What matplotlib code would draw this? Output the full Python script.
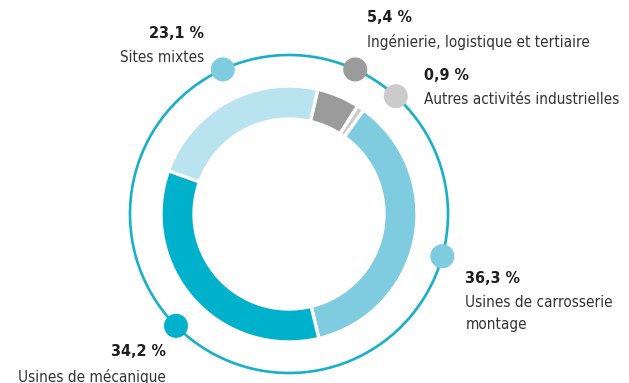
import matplotlib.pyplot as plt
from matplotlib import font_manager
from matplotlib.patches import Circle
import numpy as np

# shares, clockwise from the top
labels = ['Ingénierie, logistique et tertiaire', 'Autres activités industrielles',
          'Usines de carrosserie\nmontage', 'Usines de mécanique', 'Sites mixtes']
values = [5.4, 0.9, 36.3, 34.2, 23.1]
value_text = ['5,4 %', '0,9 %', '36,3 %', '34,2 %', '23,1 %']

wedge_colors = ['#9b9b9b', '#cbcbcb', '#7fcbe0', '#00b1cc', '#b9e3ef']
dot_colors = ['#9b9b9b', '#cbcbcb', '#7fcbe0', '#00b1cc', '#7fcbe0']
ring_color = '#17b0cb'

# prefer a narrow face if one is around, otherwise plain Liberation Sans a bit smaller
font_kw = dict(family=['Liberation Sans', 'DejaVu Sans'])
fsize = 10.5
for f in font_manager.fontManager.ttflist:
    if f.name == 'Liberation Sans Narrow':
        font_kw = dict(family=['Liberation Sans Narrow', 'DejaVu Sans'])
        fsize = 12.5
        break
else:
    for f in font_manager.fontManager.ttflist:
        if f.name == 'DejaVu Sans' and 'condensed' in str(f.stretch):
            font_kw = dict(family=['DejaVu Sans'], fontstretch='condensed')
            fsize = 11
            break

W, H = 629, 383
fig = plt.figure(figsize=(W / 100, H / 100), dpi=100)
ax = fig.add_axes([0, 0, 1, 1])

cx, cy = 289, H - 214
r_out, r_in = 128, 95
ring_r = 159

ax.pie(values, colors=wedge_colors, startangle=77, counterclock=False,
       radius=r_out, center=(cx, cy), frame=True,
       wedgeprops=dict(width=r_out - r_in, edgecolor='white', linewidth=2.4))

ax.add_patch(Circle((cx, cy), ring_r, fill=False, edgecolor=ring_color, lw=1.9, zorder=3))

# where each marker sits on the ring (degrees clockwise from top)
dot_angle = [24.6, 42.2, 105.4, 225.3, 335.4]
# text anchor offsets from the marker in px (dx right, dy down) and alignment
text_off = [(12, -52), (28, -21), (23, 22), (-10, 26), (-19, -36)]
text_ha = ['left', 'left', 'left', 'right', 'right']

for i in range(len(values)):
    a = np.radians(dot_angle[i])
    x = cx + ring_r * np.sin(a)
    y = cy + ring_r * np.cos(a)
    ax.add_patch(Circle((x, y), 12, facecolor=dot_colors[i], edgecolor='none', zorder=4))
    tx = x + text_off[i][0]
    ty = y - text_off[i][1]
    ax.text(tx, ty, value_text[i], ha=text_ha[i], va='center', fontsize=fsize + 0.5,
            fontweight='bold', color='#1e1e1e', **font_kw)
    ax.text(tx, ty - 17, labels[i], ha=text_ha[i], va='top', fontsize=fsize,
            color='#333333', linespacing=1.6, **font_kw)

ax.set_xlim(0, W)
ax.set_ylim(0, H)
ax.set_aspect('equal')
ax.axis('off')
fig.savefig('out.png', dpi=100)
